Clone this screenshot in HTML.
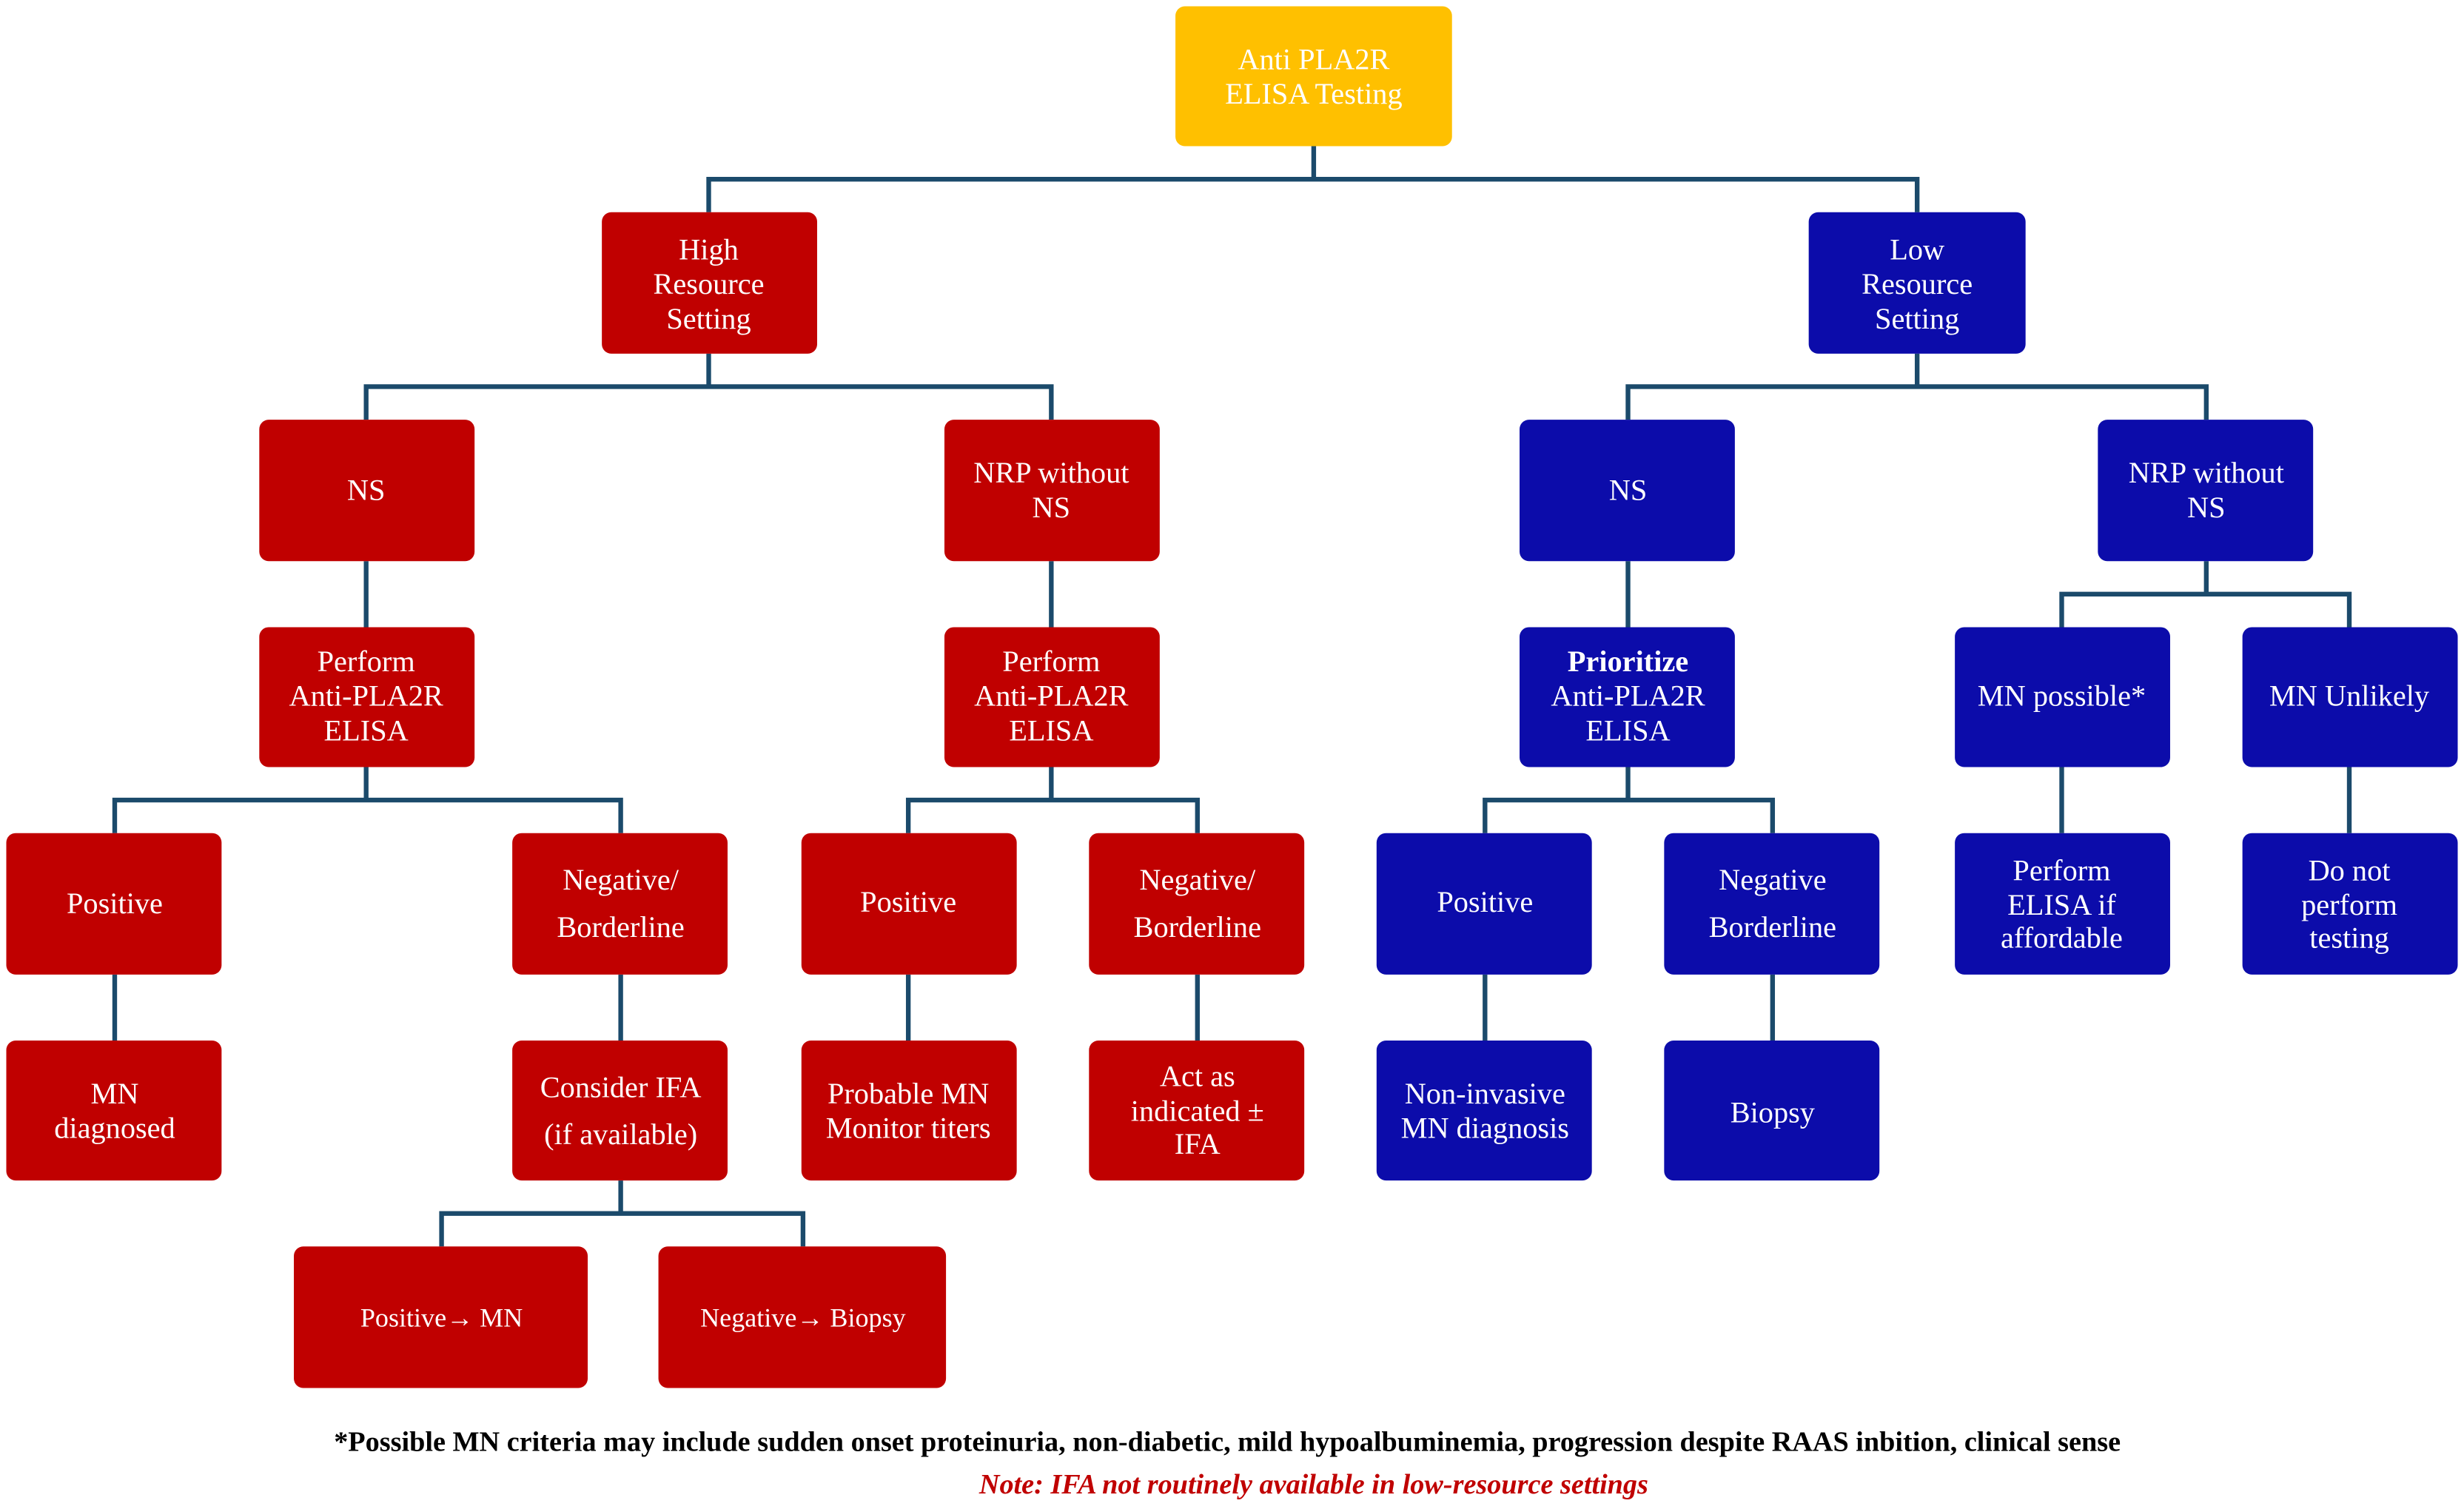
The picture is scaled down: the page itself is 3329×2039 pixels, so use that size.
<!DOCTYPE html>
<html><head><meta charset="utf-8"><style>
html,body{margin:0;padding:0;background:#fff;}
svg{display:block}
text{font-family:"Liberation Serif",serif;}
</style></head><body>
<svg width="3329" height="2039" viewBox="0 0 1568 960" preserveAspectRatio="none" xmlns="http://www.w3.org/2000/svg">
<rect width="1568" height="960" fill="#fff"/>
<g stroke="#1b4a6b" stroke-width="3" fill="none">
<path d="M836 93V114M451 135V114H1220V135"/>
<path d="M451 225V246M233 267V246H669V267"/>
<path d="M1220 225V246M1036 267V246H1404V267"/>
<path d="M233 357V399M669 357V399M1036 357V399"/>
<path d="M1404 357V378M1312 399V378H1495V399"/>
<path d="M233 488V509M73 530V509H395V530"/>
<path d="M669 488V509M578 530V509H762V530"/>
<path d="M1036 488V509M945 530V509H1128V530"/>
<path d="M1312 488V530M1495 488V530"/>
<path d="M73 620V662M395 620V662M578 620V662M762 620V662M945 620V662M1128 620V662"/>
<path d="M395 751V772M281 793V772H511V793"/>
</g>
<g>
<rect x="748" y="4" width="176" height="89" rx="6" fill="#FFC000"/>
<rect x="383" y="135" width="137" height="90" rx="6" fill="#C00000"/>
<rect x="1151" y="135" width="138" height="90" rx="6" fill="#0C0CAA"/>
<rect x="165" y="267" width="137" height="90" rx="6" fill="#C00000"/>
<rect x="601" y="267" width="137" height="90" rx="6" fill="#C00000"/>
<rect x="967" y="267" width="137" height="90" rx="6" fill="#0C0CAA"/>
<rect x="1335" y="267" width="137" height="90" rx="6" fill="#0C0CAA"/>
<rect x="165" y="399" width="137" height="89" rx="6" fill="#C00000"/>
<rect x="601" y="399" width="137" height="89" rx="6" fill="#C00000"/>
<rect x="967" y="399" width="137" height="89" rx="6" fill="#0C0CAA"/>
<rect x="1244" y="399" width="137" height="89" rx="6" fill="#0C0CAA"/>
<rect x="1427" y="399" width="137" height="89" rx="6" fill="#0C0CAA"/>
<rect x="4" y="530" width="137" height="90" rx="6" fill="#C00000"/>
<rect x="326" y="530" width="137" height="90" rx="6" fill="#C00000"/>
<rect x="510" y="530" width="137" height="90" rx="6" fill="#C00000"/>
<rect x="693" y="530" width="137" height="90" rx="6" fill="#C00000"/>
<rect x="876" y="530" width="137" height="90" rx="6" fill="#0C0CAA"/>
<rect x="1059" y="530" width="137" height="90" rx="6" fill="#0C0CAA"/>
<rect x="1244" y="530" width="137" height="90" rx="6" fill="#0C0CAA"/>
<rect x="1427" y="530" width="137" height="90" rx="6" fill="#0C0CAA"/>
<rect x="4" y="662" width="137" height="89" rx="6" fill="#C00000"/>
<rect x="326" y="662" width="137" height="89" rx="6" fill="#C00000"/>
<rect x="510" y="662" width="137" height="89" rx="6" fill="#C00000"/>
<rect x="693" y="662" width="137" height="89" rx="6" fill="#C00000"/>
<rect x="876" y="662" width="137" height="89" rx="6" fill="#0C0CAA"/>
<rect x="1059" y="662" width="137" height="89" rx="6" fill="#0C0CAA"/>
<rect x="187" y="793" width="187" height="90" rx="6" fill="#C00000"/>
<rect x="419" y="793" width="183" height="90" rx="6" fill="#C00000"/>
</g>
<g fill="#fff" font-size="19" text-anchor="middle">
<text x="836" y="44">Anti PLA2R</text><text x="836" y="66">ELISA Testing</text>
<text x="451" y="165">High</text><text x="451" y="187">Resource</text><text x="451" y="209">Setting</text>
<text x="1220" y="165">Low</text><text x="1220" y="187">Resource</text><text x="1220" y="209">Setting</text>
<text x="233" y="318">NS</text>
<text x="669" y="307">NRP without</text><text x="669" y="329">NS</text>
<text x="1036" y="318">NS</text>
<text x="1404" y="307">NRP without</text><text x="1404" y="329">NS</text>
<text x="233" y="427">Perform</text><text x="233" y="449">Anti-PLA2R</text><text x="233" y="471">ELISA</text>
<text x="669" y="427">Perform</text><text x="669" y="449">Anti-PLA2R</text><text x="669" y="471">ELISA</text>
<text x="1036" y="427" font-weight="bold">Prioritize</text><text x="1036" y="449">Anti-PLA2R</text><text x="1036" y="471">ELISA</text>
<text x="1312" y="449">MN possible*</text>
<text x="1495" y="449">MN Unlikely</text>
<text x="73" y="581">Positive</text>
<text x="395" y="566">Negative/</text><text x="395" y="596">Borderline</text>
<text x="578" y="580">Positive</text>
<text x="762" y="566">Negative/</text><text x="762" y="596">Borderline</text>
<text x="945" y="580">Positive</text>
<text x="1128" y="566">Negative</text><text x="1128" y="596">Borderline</text>
<text x="1312" y="560">Perform</text><text x="1312" y="582">ELISA if</text><text x="1312" y="603">affordable</text>
<text x="1495" y="560">Do not</text><text x="1495" y="582">perform</text><text x="1495" y="603">testing</text>
<text x="73" y="702">MN</text><text x="73" y="724">diagnosed</text>
<text x="395" y="698">Consider IFA</text><text x="395" y="728">(if available)</text>
<text x="578" y="702">Probable MN</text><text x="578" y="724">Monitor titers</text>
<text x="762" y="691">Act as</text><text x="762" y="713">indicated ±</text><text x="762" y="734">IFA</text>
<text x="945" y="702">Non-invasive</text><text x="945" y="724">MN diagnosis</text>
<text x="1128" y="714">Biopsy</text>
<text x="281" y="844" font-size="17">Positive→ MN</text>
<text x="511" y="844" font-size="17">Negative→ Biopsy</text>
</g>
<text x="781" y="923" font-size="18" font-weight="bold" text-anchor="middle" fill="#000">*Possible MN criteria may include sudden onset proteinuria, non-diabetic, mild hypoalbuminemia, progression despite RAAS inbition, clinical sense</text>
<text x="836" y="950" font-size="18" font-weight="bold" font-style="italic" text-anchor="middle" fill="#C00000">Note: IFA not routinely available in low-resource settings</text>
</svg>
</body></html>
